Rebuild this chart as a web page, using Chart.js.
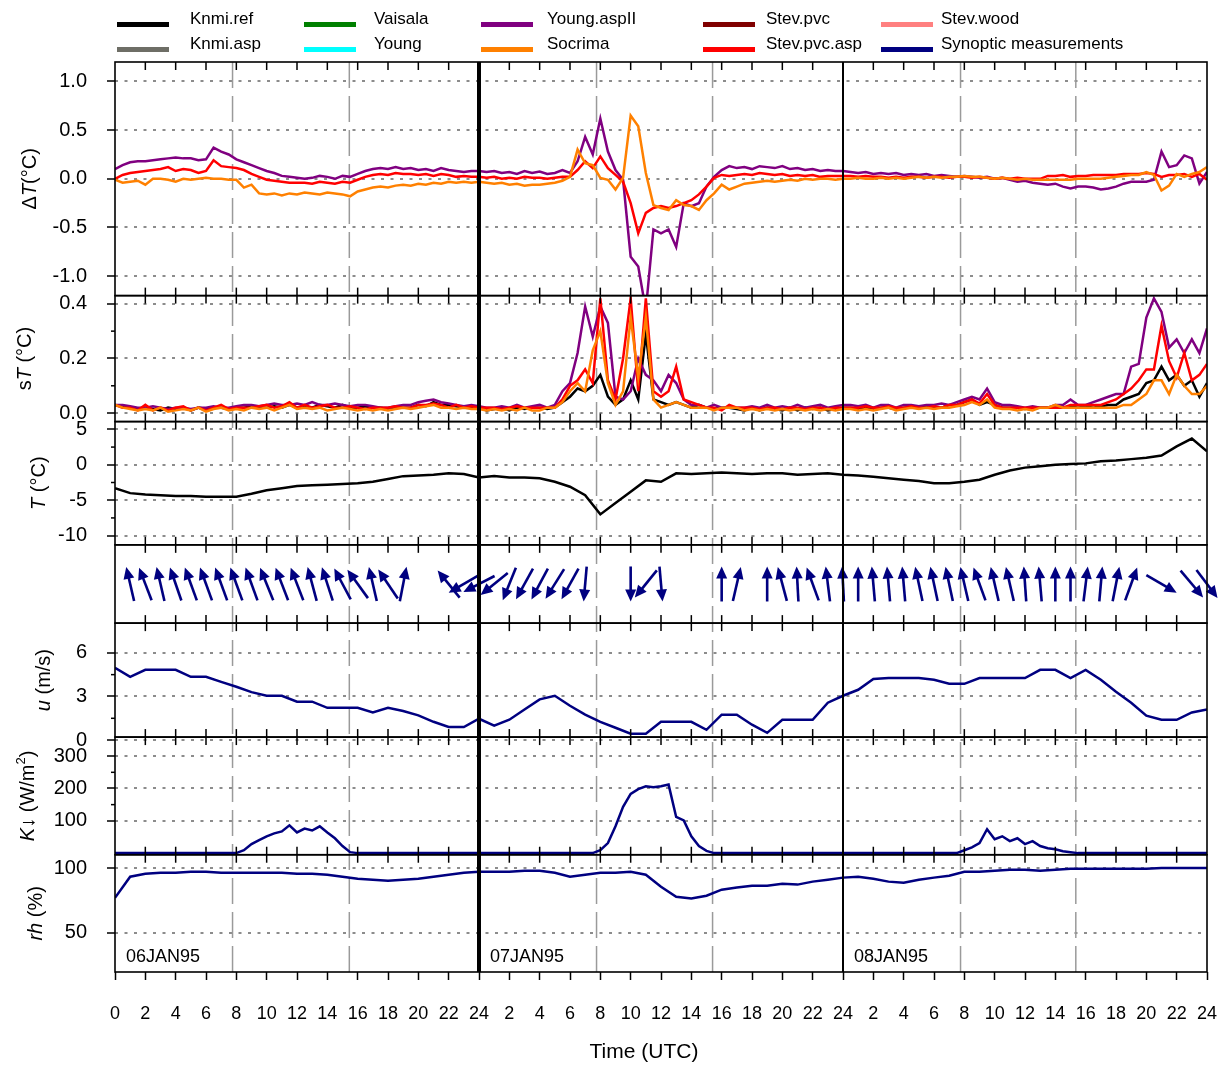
<!DOCTYPE html>
<html>
<head>
<meta charset="utf-8">
<script src="https://cdn.jsdelivr.net/npm/chart.js@4.4.1/dist/chart.umd.min.js"></script>
<style>
  body { margin: 0; background: #fff; }
  #wrap { position: relative; width: 1232px; height: 1066px; font-family: 'Liberation Sans', Arial, sans-serif; }
  #chart { position: absolute; left: 0; top: 0; }
  .leg-txt { position: absolute; font-size: 17px; line-height: 20px; white-space: nowrap; color: #000; }
  .leg-sw { position: absolute; width: 52px; height: 5px; }
</style>
</head>
<body>
<div id="wrap">
  <canvas id="chart" width="1232" height="1066"></canvas>
  <div id="legend"></div>
</div>
<script>
// time axis, hours since 06JAN95 00 UTC
const hours = Array.from({length: 73}, (_, i) => i);          // hourly synoptic obs
const halfHours = Array.from({length: 145}, (_, i) => i / 2);  // 30-min sensor data

// temperature difference with reference (deg C)
const dtYoungAspII = [
  0.10, 0.14, 0.17, 0.18, 0.18, 0.19, 0.20, 0.21, 0.22, 0.21, 0.21, 0.19, 0.20, 0.32, 0.28, 0.25, 0.20, 0.17, 0.14, 0.11, 0.08, 0.06, 0.03, 0.02, 0.01,
  0.00, 0.01, 0.03, 0.02, 0.00, 0.03, 0.02, 0.05, 0.08, 0.10, 0.11, 0.10, 0.12, 0.10, 0.11, 0.09, 0.10, 0.08, 0.11, 0.09, 0.08, 0.07, 0.08, 0.08,
  0.07, 0.08, 0.06, 0.07, 0.05, 0.08, 0.06, 0.075, 0.05, 0.06, 0.09, 0.06, 0.18, 0.43, 0.25, 0.62, 0.28, 0.09, -0.01, -0.80, -0.90, -1.35, -0.52, -0.56,
  -0.52, -0.70, -0.25, -0.28, -0.25, -0.08, 0.02, 0.09, 0.13, 0.11, 0.12, 0.10, 0.13, 0.12, 0.11, 0.13, 0.10, 0.11, 0.09, 0.10, 0.08, 0.09, 0.08, 0.08,
  0.07, 0.06, 0.07, 0.05, 0.06, 0.05, 0.06, 0.04, 0.05, 0.04, 0.05, 0.03, 0.04, 0.03, 0.02, 0.03, 0.02, 0.01, 0.02, 0.00, 0.01, -0.01, -0.03, -0.02,
  -0.04, -0.05, -0.06, -0.05, -0.08, -0.10, -0.08, -0.08, -0.09, -0.11, -0.10, -0.08, -0.05, -0.03, -0.03, -0.03, -0.01, 0.28, 0.12, 0.14, 0.24, 0.21, -0.05, 0.07
];
const dtStevPvcAsp = [
  0.00, 0.04, 0.06, 0.07, 0.08, 0.09, 0.10, 0.12, 0.08, 0.10, 0.09, 0.06, 0.08, 0.19, 0.13, 0.12, 0.11, 0.09, 0.05, 0.02, -0.01, -0.02, -0.03, -0.04, -0.04,
  -0.04, -0.05, -0.03, -0.04, -0.05, -0.03, -0.04, -0.01, 0.02, 0.04, 0.05, 0.04, 0.06, 0.05, 0.05, 0.04, 0.05, 0.03, 0.05, 0.04, 0.02, 0.03, 0.02, 0.02,
  0.01, 0.02, 0.00, 0.01, 0.00, 0.02, 0.01, 0.01, 0.00, 0.01, 0.02, 0.02, 0.09, 0.18, 0.11, 0.23, 0.11, 0.04, -0.03, -0.25, -0.56, -0.35, -0.30, -0.28,
  -0.30, -0.28, -0.25, -0.22, -0.16, -0.08, 0.01, 0.04, 0.03, 0.04, 0.05, 0.04, 0.06, 0.05, 0.04, 0.05, 0.03, 0.04, 0.03, 0.04, 0.02, 0.03, 0.03, 0.03,
  0.03, 0.02, 0.03, 0.02, 0.02, 0.01, 0.02, 0.01, 0.02, 0.02, 0.01, 0.02, 0.02, 0.01, 0.02, 0.02, 0.01, 0.02, 0.01, 0.00, 0.01, 0.00, 0.01, 0.00,
  0.00, 0.00, 0.03, 0.03, 0.04, 0.02, 0.03, 0.03, 0.04, 0.04, 0.04, 0.04, 0.05, 0.05, 0.05, 0.06, 0.05, 0.02, 0.04, 0.04, 0.05, 0.02, 0.05, -0.01
];
const dtSocrima = [
  -0.01, -0.04, -0.03, -0.02, -0.06, 0.00, 0.00, -0.01, -0.03, 0.00, -0.01, 0.00, 0.01, 0.00, 0.00, -0.01, -0.01, -0.09, -0.06, -0.15, -0.16, -0.15, -0.17, -0.15, -0.16,
  -0.14, -0.15, -0.16, -0.14, -0.15, -0.16, -0.18, -0.13, -0.11, -0.09, -0.08, -0.09, -0.07, -0.06, -0.07, -0.05, -0.06, -0.04, -0.05, -0.03, -0.04, -0.03, -0.04, -0.03,
  -0.04, -0.05, -0.04, -0.06, -0.05, -0.07, -0.06, -0.06, -0.05, -0.04, -0.02, 0.02, 0.30, 0.16, 0.14, 0.01, -0.01, -0.11, 0.01, 0.65, 0.54, 0.06, -0.27, -0.30,
  -0.32, -0.22, -0.27, -0.28, -0.32, -0.22, -0.15, -0.06, -0.11, -0.08, -0.05, -0.04, -0.03, -0.02, -0.03, -0.02, -0.01, -0.02, 0.00, -0.01, 0.00, 0.00, -0.01, 0.00,
  0.00, 0.01, 0.00, 0.00, 0.01, 0.00, 0.01, 0.00, 0.01, 0.02, 0.01, 0.02, 0.01, 0.02, 0.02, 0.03, 0.02, 0.02, 0.01, 0.00, 0.01, 0.00, -0.01, 0.00,
  -0.01, -0.01, -0.01, -0.01, -0.01, -0.01, 0.00, 0.00, 0.00, 0.00, 0.01, 0.02, 0.03, 0.04, 0.04, 0.07, 0.04, -0.12, -0.07, 0.05, 0.02, 0.05, 0.07, 0.12
];

// standard deviation of temperature (deg C)
const sdKnmiRef = [
  0.03, 0.025, 0.02, 0.015, 0.02, 0.015, 0.01, 0.02, 0.015, 0.02, 0.01, 0.02, 0.015, 0.02, 0.02, 0.015, 0.02, 0.02, 0.025, 0.02, 0.02, 0.025, 0.02, 0.03,
  0.02, 0.025, 0.02, 0.03, 0.025, 0.02, 0.03, 0.02, 0.02, 0.025, 0.02, 0.02, 0.015, 0.02, 0.02, 0.02, 0.03, 0.025, 0.04, 0.03, 0.03, 0.025, 0.02, 0.02, 0.02,
  0.01, 0.015, 0.02, 0.01, 0.02, 0.015, 0.02, 0.02, 0.015, 0.02, 0.04, 0.06, 0.09, 0.08, 0.10, 0.14, 0.06, 0.03, 0.05, 0.12, 0.05, 0.29, 0.05, 0.04,
  0.03, 0.04, 0.03, 0.02, 0.03, 0.02, 0.015, 0.02, 0.02, 0.015, 0.01, 0.02, 0.01, 0.02, 0.015, 0.01, 0.02, 0.01, 0.02, 0.015, 0.02, 0.01, 0.015, 0.02,
  0.02, 0.015, 0.02, 0.015, 0.02, 0.02, 0.015, 0.02, 0.02, 0.02, 0.025, 0.02, 0.02, 0.03, 0.03, 0.04, 0.05, 0.03, 0.04, 0.03, 0.02, 0.02, 0.02, 0.015,
  0.02, 0.02, 0.02, 0.02, 0.02, 0.025, 0.02, 0.025, 0.02, 0.025, 0.03, 0.03, 0.05, 0.06, 0.07, 0.11, 0.12, 0.17, 0.12, 0.14, 0.10, 0.12, 0.06, 0.11
];
const sdYoungAspII = [
  0.03, 0.03, 0.025, 0.02, 0.02, 0.025, 0.02, 0.015, 0.02, 0.02, 0.015, 0.02, 0.02, 0.025, 0.02, 0.02, 0.025, 0.03, 0.03, 0.025, 0.03, 0.035, 0.03, 0.03,
  0.035, 0.03, 0.04, 0.03, 0.03, 0.035, 0.03, 0.025, 0.03, 0.03, 0.025, 0.02, 0.02, 0.025, 0.03, 0.03, 0.04, 0.045, 0.05, 0.04, 0.035, 0.03, 0.025, 0.03, 0.025,
  0.02, 0.02, 0.025, 0.02, 0.03, 0.02, 0.025, 0.03, 0.02, 0.03, 0.08, 0.11, 0.22, 0.39, 0.28, 0.39, 0.33, 0.06, 0.05, 0.08, 0.20, 0.14, 0.12, 0.08,
  0.14, 0.11, 0.05, 0.03, 0.03, 0.02, 0.03, 0.02, 0.02, 0.02, 0.02, 0.025, 0.02, 0.03, 0.02, 0.025, 0.02, 0.03, 0.02, 0.025, 0.03, 0.02, 0.025, 0.03,
  0.03, 0.025, 0.03, 0.02, 0.03, 0.03, 0.02, 0.03, 0.03, 0.025, 0.03, 0.03, 0.035, 0.03, 0.04, 0.05, 0.06, 0.05, 0.09, 0.04, 0.03, 0.03, 0.025, 0.02,
  0.025, 0.02, 0.02, 0.03, 0.03, 0.05, 0.03, 0.03, 0.04, 0.05, 0.06, 0.07, 0.07, 0.17, 0.18, 0.35, 0.42, 0.37, 0.24, 0.27, 0.22, 0.27, 0.22, 0.31
];
const sdStevPvcAsp = [
  0.03, 0.02, 0.02, 0.01, 0.03, 0.01, 0.02, 0.01, 0.02, 0.025, 0.01, 0.02, 0.01, 0.02, 0.03, 0.015, 0.02, 0.02, 0.02, 0.025, 0.03, 0.02, 0.025, 0.04,
  0.02, 0.03, 0.02, 0.025, 0.03, 0.02, 0.02, 0.025, 0.02, 0.015, 0.02, 0.02, 0.02, 0.025, 0.02, 0.02, 0.03, 0.03, 0.035, 0.03, 0.02, 0.03, 0.02, 0.025, 0.02,
  0.02, 0.02, 0.015, 0.02, 0.025, 0.02, 0.02, 0.02, 0.02, 0.02, 0.05, 0.10, 0.12, 0.16, 0.11, 0.42, 0.12, 0.05, 0.20, 0.42, 0.08, 0.42, 0.08, 0.06,
  0.08, 0.17, 0.05, 0.04, 0.03, 0.02, 0.02, 0.01, 0.03, 0.02, 0.02, 0.02, 0.015, 0.02, 0.02, 0.015, 0.02, 0.02, 0.015, 0.02, 0.02, 0.015, 0.02, 0.02,
  0.02, 0.02, 0.025, 0.02, 0.02, 0.025, 0.02, 0.02, 0.025, 0.02, 0.02, 0.025, 0.02, 0.03, 0.03, 0.04, 0.05, 0.035, 0.07, 0.03, 0.02, 0.02, 0.02, 0.02,
  0.02, 0.02, 0.02, 0.02, 0.02, 0.03, 0.03, 0.03, 0.03, 0.03, 0.04, 0.05, 0.07, 0.09, 0.12, 0.16, 0.16, 0.32, 0.19, 0.13, 0.22, 0.12, 0.14, 0.18
];
const sdSocrima = [
  0.03, 0.02, 0.015, 0.01, 0.015, 0.01, 0.02, 0.005, 0.01, 0.015, 0.01, 0.02, 0.005, 0.015, 0.02, 0.01, 0.015, 0.01, 0.02, 0.015, 0.02, 0.01, 0.02, 0.03,
  0.015, 0.02, 0.015, 0.02, 0.01, 0.015, 0.02, 0.015, 0.01, 0.015, 0.01, 0.015, 0.01, 0.015, 0.02, 0.015, 0.02, 0.025, 0.03, 0.02, 0.02, 0.015, 0.02, 0.015, 0.015,
  0.01, 0.015, 0.01, 0.015, 0.01, 0.02, 0.01, 0.01, 0.02, 0.02, 0.04, 0.08, 0.11, 0.08, 0.23, 0.30, 0.11, 0.03, 0.08, 0.35, 0.13, 0.35, 0.05, 0.02,
  0.03, 0.04, 0.03, 0.02, 0.02, 0.02, 0.01, 0.02, 0.02, 0.02, 0.01, 0.015, 0.01, 0.015, 0.01, 0.015, 0.01, 0.015, 0.01, 0.015, 0.01, 0.015, 0.01, 0.015,
  0.015, 0.01, 0.015, 0.01, 0.015, 0.02, 0.01, 0.015, 0.02, 0.015, 0.02, 0.015, 0.02, 0.02, 0.025, 0.03, 0.04, 0.03, 0.05, 0.02, 0.015, 0.015, 0.01, 0.015,
  0.01, 0.02, 0.02, 0.03, 0.02, 0.02, 0.02, 0.02, 0.02, 0.02, 0.02, 0.02, 0.03, 0.03, 0.05, 0.07, 0.12, 0.12, 0.07, 0.14, 0.10, 0.07, 0.07, 0.10
];

// reference temperature (deg C), hourly
const tKnmiRef = [
  -3.3, -4.0, -4.2, -4.3, -4.4, -4.4, -4.5, -4.5, -4.5, -4.1, -3.6, -3.3, -3.0, -2.9, -2.8, -2.7, -2.6, -2.4, -2.0, -1.6, -1.5, -1.4, -1.2, -1.3, -1.8,
  -1.6, -1.8, -1.8, -1.9, -2.4, -3.1, -4.3, -7.0, -5.4, -3.8, -2.2, -2.4, -1.2, -1.3, -1.2, -1.1, -1.2, -1.3, -1.2, -1.2, -1.4, -1.3, -1.2, -1.4,
  -1.5, -1.7, -1.9, -2.1, -2.3, -2.6, -2.6, -2.4, -2.1, -1.4, -0.8, -0.4, -0.2, 0.0, 0.1, 0.2, 0.5, 0.6, 0.8, 1.0, 1.3, 2.6, 3.7, 1.9
];

// synoptic wind: arrow times (h) and direction the wind comes from (deg)
const windTime = [
  1, 2, 3, 4, 5, 6, 7, 8, 9, 10, 11, 12, 13, 14, 15, 16, 17, 18, 19, 22, 23, 24,
  25, 26, 27, 28, 29, 30, 31, 34, 35, 36, 40, 41, 43, 44, 45, 46, 47, 48,
  49, 50, 51, 52, 53, 54, 55, 56, 57, 58, 59, 60, 61, 62, 63, 64, 65, 66, 67, 69, 71, 72
];
const windDir = [
  167, 159, 167, 161, 160, 160, 160, 160, 160, 158, 159, 159, 165, 162, 152, 144, 167, 146, 191, 141, 60, 63,
  51, 22, 29, 28, 32, 29, 5, 0, 39, 355, 180, 193, 180, 165, 177, 160, 173, 177,
  180, 175, 175, 175, 168, 168, 168, 167, 160, 167, 167, 176, 175, 180, 180, 187, 185, 191, 200, 300, 320, 323
];
// wind speed (m/s), hourly
const windSpeed = [
  4.97, 4.35, 4.83, 4.83, 4.83, 4.35, 4.35, 4.0, 3.67, 3.3, 3.05, 3.05, 2.64, 2.64, 2.22, 2.22, 2.22, 1.9, 2.22, 2.0, 1.7, 1.26, 0.9, 0.9, 1.47,
  1.0, 1.4, 2.1, 2.8, 3.05, 2.36, 1.75, 1.26, 0.85, 0.44, 0.44, 1.26, 1.26, 1.26, 0.71, 1.75, 1.75, 1.06, 0.5, 1.4, 1.4, 1.4, 2.57, 3.05,
  3.46, 4.2, 4.27, 4.27, 4.27, 4.15, 3.87, 3.87, 4.27, 4.27, 4.27, 4.27, 4.83, 4.83, 4.27, 4.83, 4.15, 3.33, 2.57, 1.68, 1.4, 1.4, 1.9, 2.1
];
// global radiation (W/m2), 30-min
const globalRad = [
  0, 0, 0, 0, 0, 0, 0, 0, 0, 0, 0, 0, 0, 0, 0, 0, 0,
  9, 28, 40, 52, 61, 67, 86, 64, 76, 70, 83, 64, 46, 22, 3,
  0, 0, 0, 0, 0, 0, 0, 0, 0, 0, 0, 0, 0, 0, 0, 0, 0,
  0, 0, 0, 0, 0, 0, 0, 0, 0, 0, 0, 0, 0, 0, 0,
  9, 31, 83, 143, 183, 198, 207, 204, 207, 212, 112, 101, 52, 22, 7,
  0, 0, 0, 0, 0, 0, 0, 0, 0, 0, 0, 0, 0, 0, 0, 0, 0, 0,
  0, 0, 0, 0, 0, 0, 0, 0, 0, 0, 0, 0, 0, 0, 0,
  9, 18, 31, 74, 43, 52, 37, 46, 28, 37, 22, 15, 12, 6, 3,
  0, 0, 0, 0, 0, 0, 0, 0, 0, 0, 0, 0, 0, 0, 0, 0, 0, 0
];
// relative humidity (%), hourly
const relHum = [
  77, 93.3, 95.6, 96.4, 96.4, 97.1, 97.1, 96.4, 96.4, 96.4, 96.4, 96.4, 95.6, 95.6, 94.8, 93.3, 91.7, 91.0, 90.2, 91.0, 91.7, 93.3, 94.8, 96.4, 97.1,
  97.1, 97.1, 97.9, 97.9, 96.4, 93.3, 94.8, 96.4, 96.4, 97.1, 94.8, 85.6, 77.8, 76.4, 78.6, 83.3, 84.9, 86.4, 86.4, 87.9, 87.2, 89.5, 91.0, 92.6,
  93.3, 91.7, 89.5, 88.6, 91.0, 92.6, 94.0, 97.1, 97.1, 97.9, 98.7, 98.7, 97.9, 98.7, 99.5, 99.5, 99.5, 99.5, 99.5, 99.5, 100, 100, 100, 100
];

// sunrise / sunset and day marks
const sunTimes = [7.75, 15.45, 31.75, 39.4, 55.75, 63.35];
const dayBreaks = [24, 48];
const dayStarts = [0, 24, 48];
const dayLabels = ['06JAN95', '07JAN95', '08JAN95'];

// y tick values
const dtTicks = [-1, -0.5, 0, 0.5, 1];
const sdTicks = [0, 0.2, 0.4];
const sdMinor = [0.1, 0.3];
const tTicks = [-10, -5, 0, 5];
const tMinor = [-7.5, -2.5, 2.5];
const uTicks = [0, 3, 6];
const uMinor = [1.5, 4.5];
const kTicks = [100, 200, 300];
const kMinor = [150, 250];
const rhTicks = [50, 100];

const legendNames = ['Knmi.ref', 'Knmi.asp', 'Vaisala', 'Young', 'Young.aspII', 'Socrima', 'Stev.pvc', 'Stev.pvc.asp', 'Stev.wood', 'Synoptic measurements'];
const legendColors = ['#000000', '#6e6e66', '#008000', '#00ffff', '#800080', '#ff8000', '#800000', '#ff0000', '#ff8080', '#000080'];

const FAM = "'Liberation Sans', Arial, sans-serif";
const PURPLE = '#800080', RED = '#ff0000', ORANGE = '#ff8000', NAVY = '#000080';

// html legend, two rows
const legCols = [117, 304, 481, 703, 881];
const legTextOff = [73, 70, 66, 63, 60];
const legEl = document.getElementById('legend');
legendNames.forEach((name, i) => {
  const c = Math.floor(i / 2), r = i % 2;
  const sw = document.createElement('div');
  sw.className = 'leg-sw';
  sw.style.left = legCols[c] + 'px';
  sw.style.top = (22 + r * 25) + 'px';
  sw.style.background = legendColors[i];
  legEl.appendChild(sw);
  const tx = document.createElement('div');
  tx.className = 'leg-txt';
  tx.style.left = (legCols[c] + legTextOff[c]) + 'px';
  tx.style.top = (9 + r * 25) + 'px';
  tx.textContent = name;
  legEl.appendChild(tx);
});

// panels top to bottom
const panels = [
  {id: 'yDT', h: 233.7, min: -1.2, max: 1.2, ticks: dtTicks, minor: [], fmt: v => v.toFixed(1), titleX: 30,
   title: [{t: 'Δ'}, {t: 'T', i: true}, {t: '(°C)'}]},
  {id: 'ySD', h: 126, min: -0.031, max: 0.43, ticks: sdTicks, minor: sdMinor, fmt: v => v.toFixed(1), titleX: 25,
   title: [{t: 's'}, {t: 'T', i: true}, {t: ' (°C)'}]},
  {id: 'yT', h: 123.3, min: -11.3, max: 6.1, ticks: tTicks, minor: tMinor, fmt: v => String(v), titleX: 39,
   title: [{t: 'T', i: true}, {t: ' (°C)'}]},
  {id: 'yWind', h: 78.3, min: -1, max: 1, ticks: null, minor: [], fmt: v => '', titleX: 0, title: null},
  {id: 'yU', h: 114, min: 0.21, max: 8.04, ticks: uTicks, minor: uMinor, fmt: v => String(v), titleX: 44,
   title: [{t: 'u', i: true}, {t: ' (m/s)'}]},
  {id: 'yK', h: 117.7, min: -5, max: 359, ticks: kTicks, minor: kMinor, fmt: v => String(v), titleX: 28,
   title: [{t: 'K', i: true}, {t: '↓ (W/m'}, {t: '2', sup: true}, {t: ')'}]},
  {id: 'yRH', h: 117.3, min: 19.6, max: 110.3, ticks: rhTicks, minor: [], fmt: v => String(v), titleX: 36,
   title: [{t: 'rh', i: true}, {t: ' (%)'}]}
];

const scales = {
  x: {
    type: 'linear', position: 'bottom', min: 0, max: 72,
    afterFit: s => { s.height = 94; s.paddingLeft = 0; s.paddingRight = 0; },
    ticks: {stepSize: 2, autoSkip: false, maxRotation: 0, padding: 23, color: '#000', font: {size: 18, family: FAM},
            callback: v => v === 0 ? '0' : String(((v - 1) % 24) + 1)},
    grid: {drawOnChartArea: false, drawTicks: true, tickLength: 8, tickColor: '#000', tickWidth: 1.5},
    border: {display: false}
  }
};
panels.forEach((p, i) => {
  const hasTicks = !!p.ticks;
  scales[p.id] = {
    type: 'linear', position: 'left', stack: 'panels', stackWeight: p.h, weight: panels.length - i,
    min: p.min, max: p.max,
    afterFit: s => { s.width = 115; },
    afterBuildTicks: hasTicks ? (s => { s.ticks = p.ticks.map(v => ({value: v})); }) : undefined,
    ticks: {display: hasTicks, autoSkip: false, padding: 20, color: '#000', font: {size: 20, family: FAM}, callback: v => p.fmt(v)},
    grid: {display: hasTicks, color: '#8c8c8c', lineWidth: 2, drawTicks: true, tickLength: 8, tickColor: '#000', tickWidth: 1.5},
    border: {display: false, dash: [3, 6.5]}
  };
});

const pts = (xs, ys) => xs.map((x, i) => ({x, y: ys[i]}));
const series = (label, xs, ys, color, axis, order) => ({
  label, data: pts(xs, ys), yAxisID: axis, order,
  borderColor: color, backgroundColor: color, borderWidth: 2.5, pointRadius: 0, tension: 0
});

const datasets = [
  series('Young.aspII', halfHours, dtYoungAspII, PURPLE, 'yDT', 3),
  series('Stev.pvc.asp', halfHours, dtStevPvcAsp, RED, 'yDT', 2),
  series('Socrima', halfHours, dtSocrima, ORANGE, 'yDT', 1),
  series('Knmi.ref', halfHours, sdKnmiRef, '#000000', 'ySD', 4),
  series('Young.aspII', halfHours, sdYoungAspII, PURPLE, 'ySD', 3),
  series('Stev.pvc.asp', halfHours, sdStevPvcAsp, RED, 'ySD', 2),
  series('Socrima', halfHours, sdSocrima, ORANGE, 'ySD', 1),
  series('Knmi.ref', hours, tKnmiRef, '#000000', 'yT', 1),
  series('Synoptic measurements', hours, windSpeed, NAVY, 'yU', 1),
  series('Synoptic measurements', halfHours, globalRad, NAVY, 'yK', 1),
  series('Synoptic measurements', hours, relHum, NAVY, 'yRH', 1)
];

function vline(ctx, x, y1, y2) { ctx.beginPath(); ctx.moveTo(x, y1); ctx.lineTo(x, y2); ctx.stroke(); }
function hline(ctx, x1, x2, y) { ctx.beginPath(); ctx.moveTo(x1, y); ctx.lineTo(x2, y); ctx.stroke(); }

function drawRich(ctx, parts, cx, cy) {
  const fontOf = p => (p.i ? 'italic ' : '') + (p.sup ? 13 : 20) + 'px ' + FAM;
  ctx.save();
  ctx.translate(cx, cy);
  ctx.rotate(-Math.PI / 2);
  ctx.textBaseline = 'middle';
  ctx.textAlign = 'left';
  ctx.fillStyle = '#000';
  let total = 0;
  parts.forEach(p => { ctx.font = fontOf(p); total += ctx.measureText(p.t).width; });
  let x = -total / 2;
  parts.forEach(p => {
    ctx.font = fontOf(p);
    ctx.fillText(p.t, x, p.sup ? -7 : 0);
    x += ctx.measureText(p.t).width;
  });
  ctx.restore();
}

const panelPlugin = {
  id: 'panelPlugin',
  beforeDatasetsDraw(chart) {
    const {ctx, chartArea: a, scales: {x}} = chart;
    ctx.save();
    ctx.strokeStyle = '#9a9a9a';
    ctx.lineWidth = 1.5;
    ctx.setLineDash([26, 8]);
    sunTimes.forEach(t => vline(ctx, x.getPixelForValue(t), a.top, a.bottom));
    ctx.restore();
  },
  beforeDatasetDraw(chart, args) {
    const {ctx, chartArea: a} = chart;
    const ys = chart.scales[args.meta.yAxisID];
    ctx.save();
    ctx.beginPath();
    ctx.rect(a.left, ys.top, a.right - a.left, ys.bottom - ys.top);
    ctx.clip();
  },
  afterDatasetDraw(chart) {
    chart.ctx.restore();
  },
  afterDatasetsDraw(chart) {
    const {ctx, chartArea: a, scales} = chart;
    const x = scales.x;
    ctx.save();
    // wind arrows
    const yw = scales.yWind;
    const cy = yw.getPixelForValue(0);
    const L = 35, headL = 12, headW = 5.5;
    ctx.strokeStyle = NAVY;
    ctx.fillStyle = NAVY;
    ctx.lineWidth = 2.6;
    windTime.forEach((t, i) => {
      const cx = x.getPixelForValue(t);
      const ang = (windDir[i] + 180) * Math.PI / 180;
      const ux = Math.sin(ang), uy = -Math.cos(ang);
      const tx = cx - ux * L / 2, ty = cy - uy * L / 2;
      const hx = cx + ux * L / 2, hy = cy + uy * L / 2;
      ctx.beginPath();
      ctx.moveTo(tx, ty);
      ctx.lineTo(hx - ux * headL * 0.8, hy - uy * headL * 0.8);
      ctx.stroke();
      ctx.beginPath();
      ctx.moveTo(hx, hy);
      ctx.lineTo(hx - ux * headL - uy * headW, hy - uy * headL + ux * headW);
      ctx.lineTo(hx - ux * headL + uy * headW, hy - uy * headL - ux * headW);
      ctx.closePath();
      ctx.fill();
    });
    // day boundaries
    ctx.strokeStyle = '#000';
    dayBreaks.forEach((t, i) => {
      ctx.lineWidth = i === 0 ? 4 : 2;
      vline(ctx, x.getPixelForValue(t), a.top, a.bottom);
    });
    // panel frames, inward x ticks, minor y ticks
    const xt = x.ticks.map(t => t.value).filter(v => v > x.min && v < x.max);
    panels.forEach((p, i) => {
      const s = scales[p.id];
      ctx.lineWidth = 1.6;
      ctx.strokeRect(a.left, s.top, a.right - a.left, s.bottom - s.top);
      ctx.lineWidth = 1.5;
      xt.forEach(v => {
        const px = x.getPixelForValue(v);
        vline(ctx, px, s.top, s.top + 8);
        if (i < panels.length - 1) vline(ctx, px, s.bottom - 8, s.bottom);
      });
      p.minor.forEach(v => hline(ctx, a.left - 4, a.left, s.getPixelForValue(v)));
    });
    ctx.restore();
  },
  afterDraw(chart) {
    const {ctx, scales} = chart;
    ctx.save();
    panels.forEach(p => {
      if (!p.title) return;
      const s = scales[p.id];
      drawRich(ctx, p.title, p.titleX, (s.top + s.bottom) / 2);
    });
    const rh = scales.yRH;
    ctx.fillStyle = '#000';
    ctx.font = '18px ' + FAM;
    ctx.textAlign = 'left';
    ctx.textBaseline = 'middle';
    dayStarts.forEach((d, i) => ctx.fillText(dayLabels[i], scales.x.getPixelForValue(d) + 11, rh.bottom - 15));
    ctx.font = '21px ' + FAM;
    ctx.textAlign = 'center';
    ctx.fillText('Time (UTC)', 644, 1052);
    ctx.restore();
  }
};

Chart.defaults.font.family = FAM;
Chart.defaults.color = '#000';

new Chart(document.getElementById('chart'), {
  type: 'line',
  data: {datasets},
  options: {
    responsive: false,
    animation: false,
    devicePixelRatio: 1,
    layout: {padding: {left: 0, right: 25, top: 62, bottom: 0}},
    plugins: {legend: {display: false}, tooltip: {enabled: false}},
    scales
  },
  plugins: [panelPlugin]
});
</script>
</body>
</html>
